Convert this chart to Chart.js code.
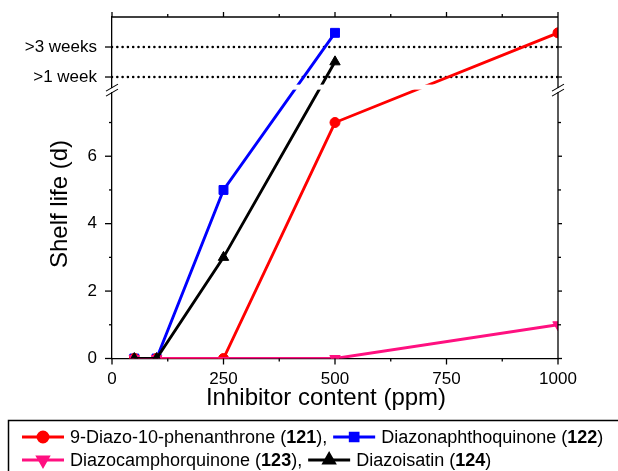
<!DOCTYPE html>
<html>
<head>
  <title>Shelf life vs inhibitor content</title>
  <script src="https://cdn.jsdelivr.net/npm/chart.js"></script>
  <style>
    body { margin: 0; background: #fff; }
  </style>
</head>
<body>
  <canvas id="shelfChart" width="618" height="471"></canvas>

  <script>
    // inhibitor content (ppm)
    const doses = [50, 100, 250, 500, 1000];
    // shelf life (d); values above the axis break sit on the stretched part of the scale
    const phenanthrone121 = [0, 0, 0, 7, 9.66];
    const naphthoquinone122 = [0, 0, 5, 9.66, null];
    const camphorquinone123 = [0, 0, null, 0, 1];
    const isatin124 = [0, 0, 3, 8.8, null];

    const weekLevels = [8.35, 9.24];
    const weekLabels = ['>1 week', '>3 weeks'];

    const xTicks = [0, 250, 500, 750, 1000];
    const xMinorTicks = [125, 375, 625, 875];
    const yTicks = [0, 2, 4, 6];
    const yMinorTicks = [1, 3, 5, 7];
    const breakAt = 8.05;

    const legendItems = [
      { name: '9-Diazo-10-phenanthrone', num: '121', comma: true },
      { name: 'Diazonaphthoquinone', num: '122', comma: false },
      { name: 'Diazocamphorquinone', num: '123', comma: true },
      { name: 'Diazoisatin', num: '124', comma: false }
    ];

    const FONT = '"Liberation Sans", Arial, sans-serif';

    function series(label, values, color, style, radius, rotation, order) {
      return {
        label: label,
        data: doses.map((d, i) => ({ x: d, y: values[i] })),
        borderColor: color,
        backgroundColor: color,
        borderWidth: 2.9,
        pointStyle: style,
        pointRadius: radius,
        pointRotation: rotation,
        pointBorderWidth: 1,
        spanGaps: true,
        clip: 0,
        order: order
      };
    }

    const datasets = [
      series('121', phenanthrone121, '#ff0000', 'circle', 5, 0, 4),
      series('122', naphthoquinone122, '#0000ff', 'rect', 6.3, 0, 5),
      series('123', camphorquinone123, '#ff1080', 'triangle', 6, 180, 3),
      series('124', isatin124, '#000000', 'triangle', 6, 0, 2)
    ];
    weekLevels.forEach(lvl => {
      datasets.push({
        label: '',
        data: [{ x: 0, y: lvl }, { x: 1000, y: lvl }],
        borderColor: '#000',
        borderWidth: 2.6,
        borderDash: [0, 5.3],
        borderCapStyle: 'round',
        pointRadius: 0,
        clip: 0,
        order: 10
      });
    });

    const decorPlugin = {
      id: 'decor',
      afterDatasetsDraw(chart) {
        const { ctx, chartArea: a } = chart;
        const by = chart.scales.y.getPixelForValue(breakAt);
        ctx.save();
        ctx.fillStyle = '#fff';
        ctx.fillRect(a.left + 1, by - 2.5, a.right - a.left - 2, 5);
        ctx.restore();
      },
      afterDraw(chart) {
        const { ctx, chartArea: a } = chart;
        const xs = chart.scales.x, ys = chart.scales.y;
        ctx.save();
        ctx.strokeStyle = '#000';
        ctx.lineWidth = 1.3;

        function seg(x1, y1, x2, y2) {
          ctx.beginPath();
          ctx.moveTo(x1, y1);
          ctx.lineTo(x2, y2);
          ctx.stroke();
        }

        // top and right frame
        seg(a.left, a.top, a.right, a.top);
        seg(a.right, a.top, a.right, a.bottom);

        xTicks.forEach(v => {
          const p = xs.getPixelForValue(v);
          seg(p, a.bottom, p, a.bottom + 6);
          seg(p, a.top, p, a.top - 5);
        });
        xMinorTicks.forEach(v => {
          const p = xs.getPixelForValue(v);
          seg(p, a.bottom, p, a.bottom + 3);
          seg(p, a.top, p, a.top - 3);
        });
        yTicks.concat(weekLevels).forEach(v => {
          const p = ys.getPixelForValue(v);
          seg(a.left - 7, p, a.left, p);
          seg(a.right, p, a.right + 4, p);
        });
        yMinorTicks.forEach(v => {
          const p = ys.getPixelForValue(v);
          seg(a.left - 3, p, a.left, p);
          seg(a.right, p, a.right + 3, p);
        });

        // axis break marks
        const by = ys.getPixelForValue(breakAt) + 3;
        [a.left, a.right].forEach(ax => {
          ctx.fillStyle = '#fff';
          ctx.fillRect(ax - 2, by - 2, 4, 4);
          ctx.lineWidth = 1.1;
          seg(ax - 6, by + 1, ax + 6, by - 6);
          seg(ax - 6, by + 6, ax + 6, by - 1);
        });

        // axis titles
        ctx.fillStyle = '#000';
        ctx.font = '24px ' + FONT;
        ctx.textAlign = 'center';
        ctx.textBaseline = 'middle';
        ctx.fillText('Inhibitor content (ppm)', 326, 398);
        ctx.save();
        ctx.translate(60, 204);
        ctx.rotate(-Math.PI / 2);
        ctx.fillText('Shelf life (d)', 0, 0);
        ctx.restore();

        // legend box
        ctx.lineWidth = 1.5;
        ctx.strokeRect(8.5, 420.5, 700, 100);
        const rowsY = [437, 460];
        ctx.textAlign = 'left';
        for (let r = 0; r < 2; r++) {
          let x = 22;
          const y = rowsY[r];
          for (let k = 0; k < 2; k++) {
            const idx = r * 2 + k;
            const ds = chart.data.datasets[idx];
            const it = legendItems[idx];
            ctx.strokeStyle = ds.borderColor;
            ctx.fillStyle = ds.borderColor;
            ctx.lineWidth = 2.9;
            seg(x, y, x + 42, y);
            Chart.helpers.drawPoint(ctx, {
              pointStyle: ds.pointStyle,
              radius: ds.pointStyle === 'rect' ? 5.5 : ds.pointRadius,
              rotation: ds.pointRotation,
              borderWidth: 1
            }, x + 21, y);
            x += 48;
            ctx.fillStyle = '#000';
            const parts = [
              [it.name + ' (', 'normal'],
              [it.num, 'bold'],
              [')' + (it.comma ? ',' : ''), 'normal']
            ];
            parts.forEach(p => {
              ctx.font = p[1] + ' 18px ' + FONT;
              ctx.fillText(p[0], x, y + 1);
              x += ctx.measureText(p[0]).width;
            });
            x += 6;
          }
        }
        ctx.restore();
      }
    };

    new Chart(document.getElementById('shelfChart'), {
      type: 'line',
      data: { datasets: datasets },
      options: {
        responsive: false,
        animation: false,
        layout: { padding: { top: 17, right: 60, left: 0, bottom: 0 } },
        plugins: {
          legend: { display: false },
          tooltip: { enabled: false }
        },
        scales: {
          x: {
            type: 'linear',
            min: 0,
            max: 1000,
            afterFit: s => {
              s.height = 112.5;
              s.paddingLeft = 0;
              s.paddingRight = 0;
            },
            afterBuildTicks: s => { s.ticks = xTicks.map(v => ({ value: v })); },
            grid: { display: false, drawTicks: false },
            border: { display: true, color: '#000', width: 1.3 },
            ticks: {
              color: '#000',
              font: { family: FONT, size: 17 },
              padding: 11,
              maxRotation: 0,
              autoSkip: false,
              callback: value => String(value)
            }
          },
          y: {
            type: 'linear',
            min: 0,
            max: 10.13,
            afterFit: s => {
              s.width = 112;
              s.paddingTop = 0;
              s.paddingBottom = 0;
            },
            afterBuildTicks: s => { s.ticks = yTicks.concat(weekLevels).map(v => ({ value: v })); },
            grid: { display: false, drawTicks: false },
            border: { display: true, color: '#000', width: 1.3 },
            ticks: {
              color: '#000',
              font: { family: FONT, size: 17 },
              padding: 15,
              autoSkip: false,
              callback: function(value) {
                const i = weekLevels.indexOf(value);
                return i >= 0 ? weekLabels[i] : String(value);
              }
            }
          }
        }
      },
      plugins: [decorPlugin]
    });
  </script>
</body>
</html>
